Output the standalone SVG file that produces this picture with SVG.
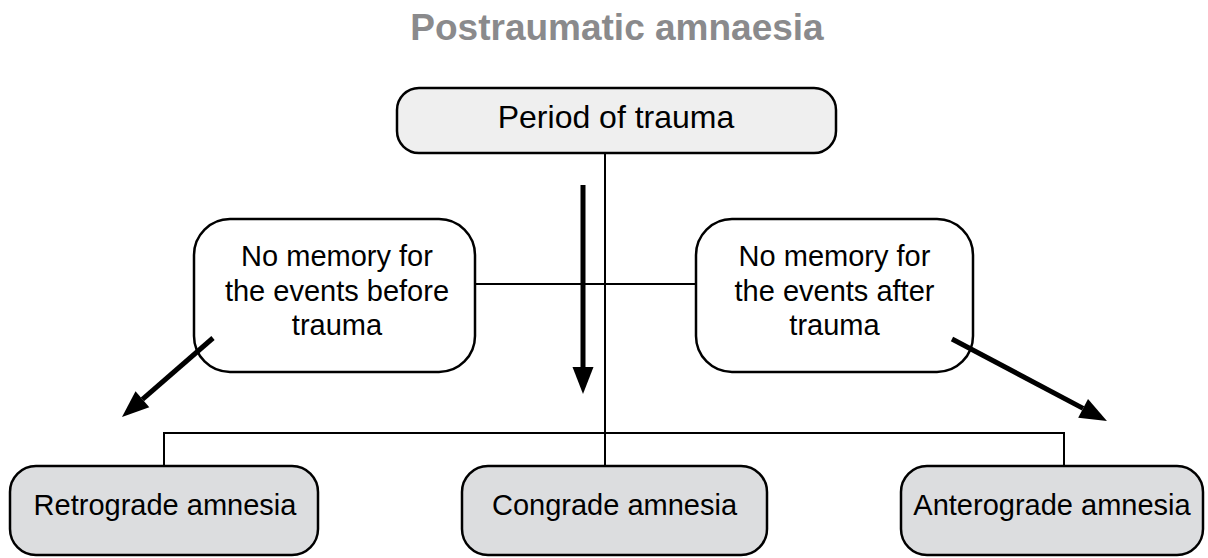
<svg xmlns="http://www.w3.org/2000/svg" width="1208" height="558" viewBox="0 0 1208 558">
  <style>
    .box { stroke: #000; stroke-width: 2.5; }
    .top { fill: #efefef; }
    .mid { fill: #fff; }
    .end { fill: #dcdddf; }
    .lbl { font-family: "Liberation Sans", Arial, sans-serif; font-size: 29px; fill: #000; text-anchor: middle; }
    .title { font-family: "Liberation Sans", Arial, sans-serif; font-size: 37px; font-weight: bold; fill: #8a8a8c; text-anchor: middle; }
    .link { fill: none; stroke: #000; stroke-width: 2; }
    .flow { fill: none; stroke: #000; stroke-width: 5; marker-end: url(#head); }
  </style>
  <defs>
    <marker id="head" markerUnits="userSpaceOnUse" markerWidth="30" markerHeight="24" refX="0" refY="0" viewBox="0 -12 30 24" orient="auto" overflow="visible">
      <path d="M0,-10.5 L27,0 L0,10.5 z" fill="#000"/>
    </marker>
  </defs>

  <text class="title" x="617" y="40">Postraumatic amnaesia</text>

  <!-- tree lines -->
  <g id="connectors">
    <line class="link" x1="605" y1="153" x2="605" y2="466"/>
    <line class="link" x1="475" y1="284" x2="697" y2="284"/>
    <polyline class="link" points="164,466 164,433 1064,433 1064,466"/>
  </g>

  <g id="period">
    <rect class="box top" x="397" y="88" width="439" height="65" rx="22"/>
    <text class="lbl" x="616" y="128" style="font-size:32px">Period of trauma</text>
  </g>

  <g id="before">
    <rect class="box mid" x="194" y="219" width="281" height="153" rx="36"/>
    <text class="lbl" x="337" y="266">No memory for</text>
    <text class="lbl" x="337" y="301">the events before</text>
    <text class="lbl" x="337" y="335">trauma</text>
  </g>

  <g id="after">
    <rect class="box mid" x="696" y="219" width="277" height="153" rx="36"/>
    <text class="lbl" x="834.5" y="266">No memory for</text>
    <text class="lbl" x="834.5" y="301">the events after</text>
    <text class="lbl" x="834.5" y="335">trauma</text>
  </g>

  <g id="retrograde">
    <rect class="box end" x="10" y="466" width="308" height="89" rx="26"/>
    <text class="lbl" x="165" y="515">Retrograde amnesia</text>
  </g>

  <g id="congrade">
    <rect class="box end" x="462" y="466" width="305" height="89" rx="26"/>
    <text class="lbl" x="614.5" y="515">Congrade amnesia</text>
  </g>

  <g id="anterograde">
    <rect class="box end" x="901" y="466" width="302" height="89" rx="26"/>
    <text class="lbl" x="1052" y="515">Anterograde amnesia</text>
  </g>

  <!-- thick direction arrows, drawn over the boxes -->
  <g id="arrows">
    <line class="flow" x1="583" y1="185" x2="583" y2="367"/>
    <line class="flow" x1="213" y1="338" x2="142.4" y2="399.3"/>
    <line class="flow" x1="952" y1="339" x2="1083.1" y2="408.4"/>
  </g>
</svg>
